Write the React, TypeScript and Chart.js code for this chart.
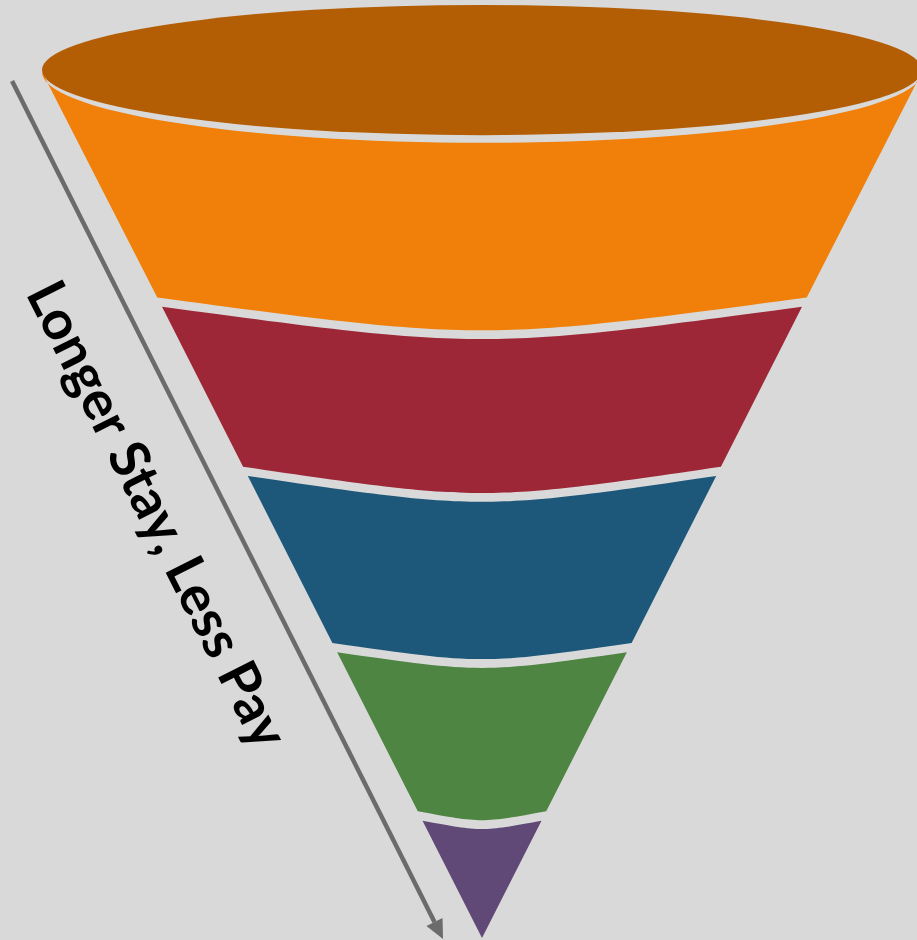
import React, { useEffect, useRef } from 'react';
import { Chart, registerables } from 'chart.js';

Chart.register(...registerables);

// Funnel levels: 100 = rim of the funnel, 0 = tip. Each stage ends at these levels.
const stageLabels = ['Stage 1', 'Stage 2', 'Stage 3', 'Stage 4', 'Stage 5'];
const stageBottomLevels = [73.8, 54.3, 34.0, 14.6, 0];
const stageColors = ['#f0800a', '#9e2737', '#1d587b', '#4e8542', '#604977'];
const rimLevel = 100;
const rimColor = '#b35e05';
const sideLabel = 'Longer Stay, Less Pay';

// arrow along the funnel side (x in width units, y in levels)
const arrowStart = { x: -106.8, y: 98.73 };
const arrowEnd = { x: -8.86, y: -0.12 };

// shape styling
const BG = '#d9d9d9';
const ARROW_COLOR = '#6b6b6b';
const GAP_LEVEL = 1.08; // gap between stages in level units
const ARC_BULGE = [0.101, 0.11, 0.108, 0.139]; // curve depth relative to half width
const RIM_RATIO = 0.148;
const FIRST_TOP_RATIO = 0.161;
const LABEL_LENGTH = 514;

const funnelPlugin = {
  id: 'funnelPlugin',
  beforeDraw(chart: any) {
    const ctx = chart.ctx;
    ctx.save();
    ctx.fillStyle = BG;
    ctx.fillRect(0, 0, chart.width, chart.height);
    ctx.restore();
  },
  afterDatasetsDraw(chart: any) {
    const ctx: CanvasRenderingContext2D = chart.ctx;
    const xs = chart.scales.x;
    const ys = chart.scales.y;
    const px = (v: number) => xs.getPixelForValue(v);
    const py = (v: number) => ys.getPixelForValue(v);
    const cx = px(0);
    const hw = (lv: number) => px(lv) - px(0);

    ctx.save();
    stageColors.forEach((color, i) => {
      ctx.beginPath();
      if (i === 0) {
        const rx = hw(rimLevel);
        ctx.ellipse(cx, py(rimLevel) + 2, rx, rx * FIRST_TOP_RATIO, 0, Math.PI, 0, true);
      } else {
        const T = stageBottomLevels[i - 1] - GAP_LEVEL;
        const d = (4 / 3) * ARC_BULGE[i - 1] * hw(T);
        ctx.moveTo(px(-T), py(T));
        ctx.bezierCurveTo(cx, py(T) + d, cx, py(T) + d, px(T), py(T));
      }
      const B = stageBottomLevels[i];
      if (B <= 0) {
        ctx.lineTo(px(0), py(0));
      } else {
        const d = (4 / 3) * ARC_BULGE[i] * hw(B);
        ctx.lineTo(px(B), py(B));
        ctx.bezierCurveTo(cx, py(B) + d, cx, py(B) + d, px(-B), py(B));
      }
      ctx.closePath();
      ctx.fillStyle = color;
      ctx.fill();
    });

    // rim ellipse
    const rx = hw(rimLevel);
    ctx.beginPath();
    ctx.ellipse(cx, py(rimLevel), rx, rx * RIM_RATIO, 0, 0, Math.PI * 2);
    ctx.fillStyle = rimColor;
    ctx.fill();

    // arrow
    const x1 = px(arrowStart.x), y1 = py(arrowStart.y);
    const x2 = px(arrowEnd.x), y2 = py(arrowEnd.y);
    const len = Math.hypot(x2 - x1, y2 - y1);
    const ux = (x2 - x1) / len, uy = (y2 - y1) / len;
    const nx = uy, ny = -ux; // normal toward upper right
    const headLen = 19, headHalf = 9;
    ctx.strokeStyle = ARROW_COLOR;
    ctx.lineWidth = 4.5;
    ctx.beginPath();
    ctx.moveTo(x1, y1);
    ctx.lineTo(x2 - ux * headLen, y2 - uy * headLen);
    ctx.stroke();
    ctx.beginPath();
    ctx.moveTo(x2, y2);
    ctx.lineTo(x2 - ux * headLen + nx * headHalf, y2 - uy * headLen + ny * headHalf);
    ctx.lineTo(x2 - ux * headLen - nx * headHalf, y2 - uy * headLen - ny * headHalf);
    ctx.closePath();
    ctx.fillStyle = ARROW_COLOR;
    ctx.fill();

    // side label
    const t = 0.4714;
    const off = -83.4;
    const bx = x1 + ux * len * t + nx * off;
    const by = y1 + uy * len * t + ny * off;
    ctx.translate(bx, by);
    ctx.rotate(Math.atan2(uy, ux));
    const family = 'Lato, "Open Sans", sans-serif';
    ctx.font = `bold 48px ${family}`;
    const w = ctx.measureText(sideLabel).width || LABEL_LENGTH;
    const size = Math.round(48 * LABEL_LENGTH / w * 10) / 10;
    ctx.font = `bold ${size}px ${family}`;
    ctx.textAlign = 'center';
    ctx.textBaseline = 'alphabetic';
    ctx.fillStyle = '#000000';
    ctx.fillText(sideLabel, 0, 0);
    ctx.restore();
  },
};

export default function App() {
  const ref = useRef<HTMLCanvasElement | null>(null);
  useEffect(() => {
    document.body.style.margin = '0';
    document.body.style.background = BG;
    if (!ref.current) return;
    const chart = new Chart(ref.current, {
      type: 'scatter',
      data: {
        datasets: [
          {
            label: stageLabels.join(', '),
            data: [],
          },
        ],
      },
      options: {
        responsive: false,
        animation: false,
        devicePixelRatio: 1,
        layout: { padding: 0 },
        plugins: { legend: { display: false }, tooltip: { enabled: false } },
        scales: {
          x: { type: 'linear', display: false, min: -109.545, max: 98.86 },
          y: { type: 'linear', display: false, min: -0.23, max: 108.065 },
        },
      },
      plugins: [funnelPlugin],
    });
    return () => chart.destroy();
  }, []);
  return (
    <div style={{ position: 'fixed', left: 0, top: 0, width: 917, height: 940, background: BG }}>
      <canvas ref={ref} width={917} height={940} style={{ display: 'block' }} />
    </div>
  );
}
